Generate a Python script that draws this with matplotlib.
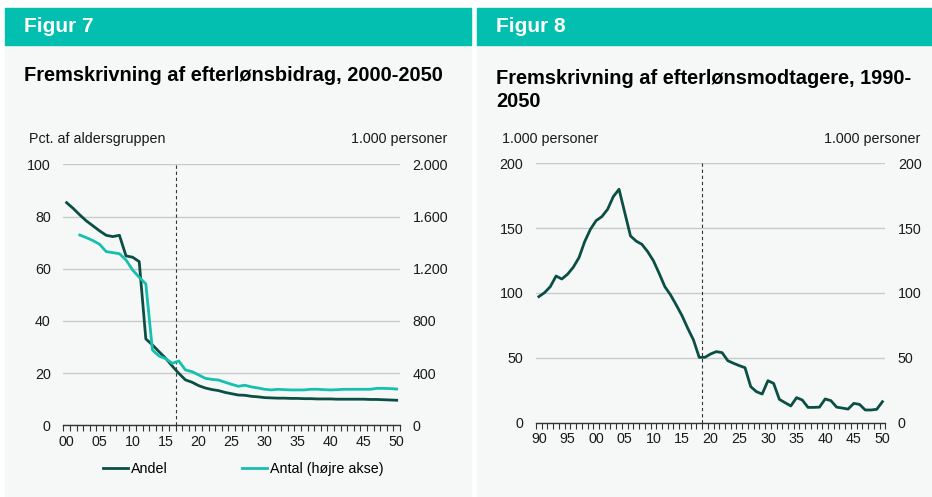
import numpy as np
import matplotlib.pyplot as plt
from matplotlib.patches import Rectangle
from matplotlib.lines import Line2D

plt.rcParams['font.family'] = ['Liberation Sans', 'DejaVu Sans']

# Figur 7 data
years7 = list(range(2000, 2051))
andel = [85.3, 83.1, 80.6, 78.3, 76.4, 74.5, 72.8, 72.3, 72.8, 64.9,
         64.4, 62.7, 33.1, 30.8, 28.2, 25.7, 22.7, 19.9, 17.4, 16.5,
         15.2, 14.3, 13.7, 13.3, 12.6, 12.1, 11.6, 11.5, 11.1, 10.9,
         10.6, 10.5, 10.4, 10.4, 10.3, 10.3, 10.2, 10.2, 10.1, 10.1,
         10.1, 10.0, 10.0, 10.0, 10.0, 10.0, 9.9, 9.9, 9.8, 9.7, 9.6]
years7_antal = list(range(2002, 2051))
antal = [1458, 1438, 1415, 1387, 1331, 1323, 1315, 1267, 1190, 1134,
         1083, 577, 531, 511, 475, 493, 424, 411, 386, 360,
         352, 347, 330, 314, 299, 307, 294, 286, 276, 271,
         276, 273, 271, 271, 271, 276, 276, 273, 271, 273,
         276, 276, 276, 276, 276, 283, 283, 281, 278]

# Figur 8 data
years8 = list(range(1990, 2051))
modtagere = [97.2, 100.3, 104.9, 113.1, 110.8, 114.4, 119.8, 127.2, 139.6, 149.1,
             155.8, 158.9, 164.5, 174.3, 180.0, 162.0, 144.0, 140.0, 137.5, 131.9,
             124.9, 115.2, 104.9, 98.5, 90.7, 82.5, 72.8, 63.8, 50.4, 50.4,
             53.0, 54.8, 54.0, 47.8, 45.8, 44.0, 42.4, 27.8, 23.9, 22.1,
             32.4, 30.3, 18.0, 15.4, 12.9, 19.3, 17.5, 11.8, 11.8, 12.0,
             18.3, 17.0, 12.0, 11.3, 10.5, 14.9, 14.1, 9.8, 9.8, 10.3, 16.2]

W, H = 932, 497
dark = '#0b4f44'
teal = '#17bfae'
header = '#02bfb0'
panel = '#f6f8f8'
grid = '#c9cbcb'
txt = '#1a1a1a'

fig = plt.figure(figsize=(W / 100, H / 100), dpi=100)
fig.patch.set_facecolor('white')


def px(x0, y0, x1, y1):
    # pixel box -> figure fraction [left, bottom, width, height]
    return [x0 / W, 1 - y1 / H, (x1 - x0) / W, (y1 - y0) / H]


for x0, x1 in [(5, 471), (477, 932)]:
    fig.patches.append(Rectangle((x0 / W, 0), (x1 - x0) / W, 1 - 8 / H,
                                 transform=fig.transFigure, color=panel, zorder=-2))
    fig.patches.append(Rectangle((x0 / W, 1 - 45 / H), (x1 - x0) / W, 37 / H,
                                 transform=fig.transFigure, color=header, zorder=-1))

fig.text(24 / W, 1 - 27 / H, 'Figur 7', color='white', fontsize=15,
         fontweight='bold', va='center')
fig.text(496 / W, 1 - 27 / H, 'Figur 8', color='white', fontsize=15,
         fontweight='bold', va='center')
fig.text(24 / W, 1 - 75.5 / H, 'Fremskrivning af efterlønsbidrag, 2000-2050',
         fontsize=14.4, fontweight='bold', va='center', color='black')
fig.text(496 / W, 1 - 90 / H, 'Fremskrivning af efterlønsmodtagere, 1990-\n2050',
         fontsize=14.4, fontweight='bold', va='center', color='black',
         linespacing=1.25)

fig.text(29 / W, 1 - 139 / H, 'Pct. af aldersgruppen', fontsize=10.3, va='center', color=txt)
fig.text(447 / W, 1 - 139 / H, '1.000 personer', fontsize=10.3, va='center', ha='right', color=txt)
fig.text(502 / W, 1 - 139 / H, '1.000 personer', fontsize=10.3, va='center', color=txt)
fig.text(920 / W, 1 - 139 / H, '1.000 personer', fontsize=10.3, va='center', ha='right', color=txt)


def style(ax, first, last, labels):
    ax.set_facecolor('none')
    for s in ['top', 'left', 'right']:
        ax.spines[s].set_visible(False)
    ax.spines['bottom'].set_color('#333333')
    ax.spines['bottom'].set_linewidth(1)
    ax.set_xlim(first - 0.5, last + 0.5)
    ax.set_xticks(np.arange(first, last + 1, 5))
    ax.set_xticklabels(labels)
    ax.set_xticks(np.arange(first - 0.5, last + 1, 1), minor=True)
    ax.tick_params(axis='x', which='major', length=0, pad=7, labelsize=10.3, colors=txt)
    ax.tick_params(axis='x', which='minor', length=4, width=0.8, color='#333333', direction='out')
    ax.tick_params(axis='y', length=0, pad=9, labelsize=10.3, colors=txt)
    ax.yaxis.grid(True, color=grid, linewidth=1)
    ax.set_axisbelow(True)


# Figur 7
ax1 = fig.add_axes(px(63.3, 164.3, 400, 425.3))
style(ax1, 2000, 2050, [f'{y % 100:02d}' for y in range(2000, 2051, 5)])
ax1.set_ylim(0, 100)
ax1.set_yticks(range(0, 101, 20))
ax1.axvline(2016.5, color='#333333', lw=0.8, ls=(0, (3, 2.5)))
ax1.plot(years7, andel, color=dark, lw=2, zorder=4)
ax1r = ax1.twinx()
ax1r.set_ylim(0, 2000)
ax1r.set_yticks(range(0, 2001, 400))
ax1r.set_yticklabels(['0', '400', '800', '1.200', '1.600', '2.000'])
ax1r.tick_params(axis='y', length=0, pad=9, labelsize=10.3, colors=txt)
for s in ax1r.spines.values():
    s.set_visible(False)
ax1r.plot(years7_antal, antal, color=teal, lw=2, zorder=3)

handles = [Line2D([], [], color=dark, lw=2), Line2D([], [], color=teal, lw=2)]
fig.legend(handles, ['Andel', 'Antal (højre akse)'], loc='center left',
           bbox_to_anchor=(103 / W, 1 - 469 / H), ncol=2, frameon=False,
           fontsize=10.3, handlelength=1.75, handletextpad=0.2,
           columnspacing=5.2, borderaxespad=0, borderpad=0)

# Figur 8
ax2 = fig.add_axes(px(536, 163.3, 885.3, 422.7))
style(ax2, 1990, 2050, [f'{y % 100:02d}' for y in range(1990, 2051, 5)])
ax2.set_ylim(0, 200)
ax2.set_yticks(range(0, 201, 50))
ax2.axvline(2018.5, color='#333333', lw=0.8, ls=(0, (3, 2.5)))
ax2.plot(years8, modtagere, color=dark, lw=2, zorder=4)
ax2r = ax2.twinx()
ax2r.set_ylim(0, 200)
ax2r.set_yticks(range(0, 201, 50))
ax2r.tick_params(axis='y', length=0, pad=9, labelsize=10.3, colors=txt)
for s in ax2r.spines.values():
    s.set_visible(False)

fig.savefig('out.png', dpi=100, facecolor=fig.get_facecolor())
